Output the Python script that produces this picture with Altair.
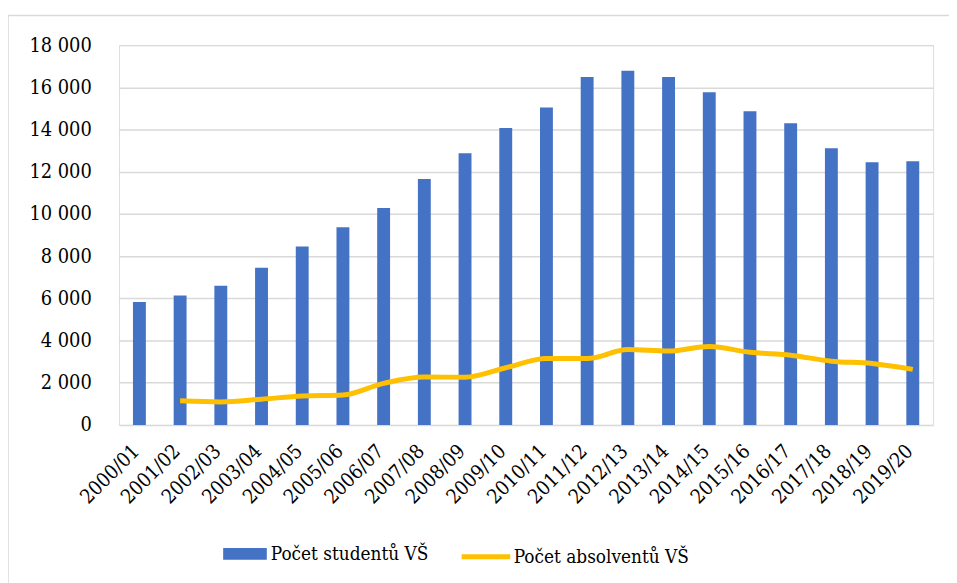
import altair as alt
import pandas as pd

years = ["2000/01", "2001/02", "2002/03", "2003/04", "2004/05", "2005/06", "2006/07",
         "2007/08", "2008/09", "2009/10", "2010/11", "2011/12", "2012/13", "2013/14",
         "2014/15", "2015/16", "2016/17", "2017/18", "2018/19", "2019/20"]
students = [5820, 6130, 6600, 7450, 8460, 9370, 10280, 11660, 12880, 14070,
            15040, 16490, 16790, 16490, 15770, 14870, 14300, 13110, 12450, 12500]
graduates = [None, 1140, 1090, 1220, 1370, 1420, 1970, 2270, 2260, 2710,
             3145, 3145, 3570, 3500, 3720, 3440, 3300, 3020, 2910, 2630]

S_NAME = "Počet studentů VŠ"
G_NAME = "Počet absolventů VŠ"

df = pd.DataFrame({
    "year": years,
    "students": students,
    "grads": graduates,
    "s_series": [S_NAME] * len(years),
    "g_series": [G_NAME] * len(years),
})

FONT = "DejaVu Serif Condensed, DejaVu Serif"
W, H = 821, 383

x_enc = alt.X("year:N", sort=years, title=None,
              scale=alt.Scale(paddingInner=0.0, paddingOuter=0.0),
              axis=alt.Axis(labelAngle=-45, labelAlign="right", labelBaseline="middle",
                            labelPadding=23, labelOffset=-3, ticks=False, domain=False,
                            labelFont=FONT, labelFontSize=20, labelColor="#000", grid=False))

y_scale = alt.Scale(domain=[0, 18000], nice=False)

bars = alt.Chart(df).mark_bar(size=13).encode(
    x=x_enc,
    y=alt.Y("students:Q", scale=y_scale, title=None,
            axis=alt.Axis(values=list(range(0, 18001, 2000)),
                          labelExpr="replace(format(datum.value, ','), ',', ' ')",
                          ticks=False, domain=False, labelFont=FONT, labelFontSize=20,
                          labelColor="#000", labelPadding=28,
                          gridColor="#d9d9d9", gridWidth=1.5)),
    color=alt.Color("s_series:N", scale=alt.Scale(domain=[S_NAME], range=["#4472C4"]),
                    legend=alt.Legend(title=None, orient="none", legendX=105, legendY=491,
                                      symbolType="M-1,-0.27L1,-0.27L1,0.27L-1,0.27Z",
                                      symbolSize=1936, symbolStrokeWidth=0,
                                      symbolOpacity=1,
                                      labelFont=FONT, labelFontSize=19, labelColor="#000",
                                      labelOffset=4, padding=0, labelLimit=400)),
)

line = alt.Chart(df).mark_line(strokeWidth=5, interpolate="monotone").encode(
    x=alt.X("year:N", sort=years),
    y=alt.Y("grads:Q", scale=y_scale),
    stroke=alt.Stroke("g_series:N", scale=alt.Scale(domain=[G_NAME], range=["#FFC000"]),
                      legend=alt.Legend(title=None, orient="none", legendX=343, legendY=489,
                                        symbolType="stroke", symbolSize=2401,
                                        symbolStrokeWidth=5,
                                        labelFont=FONT, labelFontSize=19, labelColor="#000",
                                        labelOffset=1, padding=0, labelLimit=400)),
)

frame = alt.Chart(pd.DataFrame({"f": [0]})).mark_rect(
    fill="transparent", stroke="#d9d9d9", strokeWidth=1.5
).encode(
    x=alt.value(-112), x2=alt.value(W + 40),
    y=alt.value(-30), y2=alt.value(H + 200),
)

chart = alt.layer(frame, bars, line).properties(
    width=W, height=H,
    autosize=alt.AutoSizeParams(type="none"),
    padding={"left": 112, "top": 35, "right": 16, "bottom": 157},
).configure_view(stroke=None).configure(background="white", font=FONT)

chart.save("out.html", embed_options={"renderer": "svg", "actions": False})
